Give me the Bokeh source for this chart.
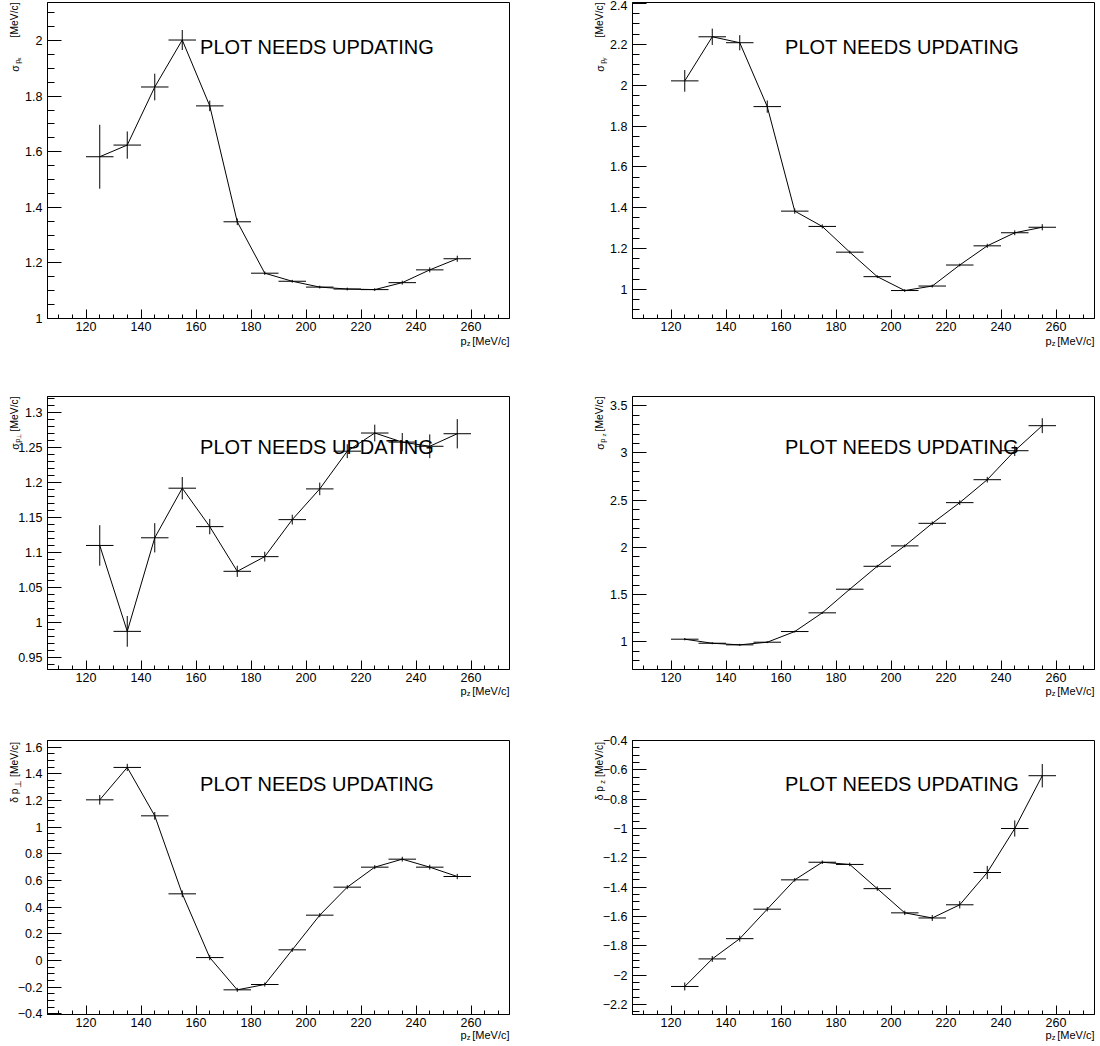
import numpy as np
from bokeh.plotting import figure
from bokeh.models import ColumnDataSource, Range1d, FixedTicker, CustomJSTickFormatter, Label
from bokeh.core.properties import value
from bokeh.layouts import column, row
from bokeh.embed import file_html
from bokeh.resources import INLINE

FONT = "Liberation Sans"

# ---------------- data ----------------
pz = [125, 135, 145, 155, 165, 175, 185, 195, 205, 215, 225, 235, 245, 255]
pz_half_bin = [5, 5, 5, 5, 5, 5, 5, 5, 5, 5, 5, 5, 5, 5]

sigma_px = [1.582, 1.624, 1.833, 2.002, 1.765, 1.348, 1.163, 1.134, 1.113, 1.106, 1.104, 1.129, 1.175, 1.215]
sigma_px_err = [0.115, 0.049, 0.048, 0.036, 0.019, 0.012, 0.006, 0.005, 0.005, 0.005, 0.005, 0.007, 0.009, 0.011]

sigma_py = [2.021, 2.237, 2.208, 1.895, 1.383, 1.308, 1.182, 1.062, 0.994, 1.016, 1.119, 1.213, 1.277, 1.304]
sigma_py_err = [0.053, 0.040, 0.037, 0.030, 0.013, 0.010, 0.007, 0.007, 0.007, 0.007, 0.007, 0.010, 0.012, 0.015]

sigma_pt = [1.110, 0.987, 1.121, 1.192, 1.137, 1.073, 1.094, 1.147, 1.191, 1.245, 1.271, 1.258, 1.252, 1.270]
sigma_pt_err = [0.029, 0.022, 0.021, 0.016, 0.011, 0.008, 0.007, 0.007, 0.009, 0.010, 0.012, 0.013, 0.017, 0.021]

sigma_pzz = [1.028, 0.985, 0.968, 0.996, 1.109, 1.307, 1.557, 1.800, 2.016, 2.255, 2.474, 2.717, 3.024, 3.289]
sigma_pzz_err = [0.012, 0.010, 0.010, 0.010, 0.010, 0.012, 0.012, 0.015, 0.015, 0.020, 0.025, 0.030, 0.056, 0.079]

delta_pt = [1.205, 1.448, 1.085, 0.500, 0.022, -0.220, -0.180, 0.080, 0.340, 0.550, 0.700, 0.760, 0.700, 0.630]
delta_pt_err = [0.036, 0.027, 0.029, 0.025, 0.020, 0.015, 0.015, 0.015, 0.015, 0.015, 0.015, 0.018, 0.018, 0.020]

delta_pz = [-2.077, -1.889, -1.751, -1.550, -1.350, -1.230, -1.245, -1.410, -1.575, -1.610, -1.520, -1.300, -1.000, -0.640]
delta_pz_err = [0.027, 0.020, 0.020, 0.015, 0.012, 0.012, 0.012, 0.015, 0.015, 0.020, 0.025, 0.045, 0.055, 0.080]

# ---------------- ticks ----------------
x_ticks = [120, 140, 160, 180, 200, 220, 240, 260]
x_tick_labels = ["120", "140", "160", "180", "200", "220", "240", "260"]

y1_ticks = [1.0, 1.2, 1.4, 1.6, 1.8, 2.0]
y1_tick_labels = ["1", "1.2", "1.4", "1.6", "1.8", "2"]
y2_ticks = [1.0, 1.2, 1.4, 1.6, 1.8, 2.0, 2.2, 2.4]
y2_tick_labels = ["1", "1.2", "1.4", "1.6", "1.8", "2", "2.2", "2.4"]
y3_ticks = [0.95, 1.0, 1.05, 1.1, 1.15, 1.2, 1.25, 1.3]
y3_tick_labels = ["0.95", "1", "1.05", "1.1", "1.15", "1.2", "1.25", "1.3"]
y4_ticks = [1.0, 1.5, 2.0, 2.5, 3.0, 3.5]
y4_tick_labels = ["1", "1.5", "2", "2.5", "3", "3.5"]
y5_ticks = [-0.4, -0.2, 0.0, 0.2, 0.4, 0.6, 0.8, 1.0, 1.2, 1.4, 1.6]
y5_tick_labels = ["\u22120.4", "\u22120.2", "0", "0.2", "0.4", "0.6", "0.8", "1", "1.2", "1.4", "1.6"]
y6_ticks = [-2.2, -2.0, -1.8, -1.6, -1.4, -1.2, -1.0, -0.8, -0.6, -0.4]
y6_tick_labels = ["\u22122.2", "\u22122", "\u22121.8", "\u22121.6", "\u22121.4", "\u22121.2", "\u22121", "\u22120.8", "\u22120.6", "\u22120.4"]

NOTE = "PLOT NEEDS UPDATING"

FMT_CODE = """
for (let i = 0; i < tvals.length; i++) {
  if (Math.abs(tvals[i] - tick) < 1e-9) { return tlabels[i]; }
}
return '';
"""

X_LO, X_HI = 106, 274


def minor_list(lo, hi, step):
    n0 = int(np.ceil(lo / step - 1e-9))
    n1 = int(np.floor(hi / step + 1e-9))
    return [round(k * step, 6) for k in range(n0, n1 + 1)]


def add_title(p, ax, ay, pieces, angle):
    # pieces: (text, font size, x offset px, y offset px)
    n = len(pieces)
    src = ColumnDataSource(dict(
        x=[ax] * n, y=[ay] * n,
        text=[pc[0] for pc in pieces], size=[pc[1] for pc in pieces],
        xo=[pc[2] for pc in pieces], yo=[pc[3] for pc in pieces]))
    p.text(x="x", y="y", text="text", source=src, text_font=value(FONT), text_font_size="size",
           x_offset="xo", y_offset="yo", angle=angle, text_align="right",
           text_baseline="alphabetic", text_color="black", level="overlay")


def make_panel(yv, ye, yr, yt, ytl, ystep, ylabel, w, h, bl, br, bt, bb, note_y, xt_off):
    p = figure(width=w, height=h, x_range=Range1d(X_LO, X_HI), y_range=Range1d(*yr),
               output_backend="svg", toolbar_location=None,
               min_border_left=bl, min_border_right=br, min_border_top=bt, min_border_bottom=bb)
    p.background_fill_color = "white"
    p.border_fill_color = "white"
    p.xgrid.visible = False
    p.ygrid.visible = False
    p.outline_line_color = "black"
    p.outline_line_width = 1
    p.outline_line_alpha = 1

    x = np.array(pz, dtype=float)
    y = np.array(yv, dtype=float)
    e = np.array(ye, dtype=float)
    hw = np.array(pz_half_bin, dtype=float)
    src = ColumnDataSource(dict(x=x, y=y, xl=x - hw, xr=x + hw, yl=y - e, yh=y + e))
    p.line("x", "y", source=src, line_color="black", line_width=1)
    p.segment("xl", "y", "xr", "y", source=src, line_color="black", line_width=1)
    p.segment("x", "yl", "x", "yh", source=src, line_color="black", line_width=1)

    frame_h = h - bt - bb

    xa = p.xaxis[0]
    xa.ticker = FixedTicker(ticks=x_ticks, minor_ticks=minor_list(X_LO, X_HI, 5))
    xa.formatter = CustomJSTickFormatter(args=dict(tvals=x_ticks, tlabels=x_tick_labels), code=FMT_CODE)
    xa.major_tick_in = 9
    xa.major_tick_out = 0
    xa.minor_tick_in = 4
    xa.minor_tick_out = 0
    xa.major_label_standoff = 3
    xa.major_label_text_font = FONT
    xa.major_label_text_font_size = "12.5px"
    xa.major_label_text_color = "black"
    xa.axis_line_color = "black"
    xa.major_tick_line_color = "black"
    xa.minor_tick_line_color = "black"

    ya = p.yaxis[0]
    ya.ticker = FixedTicker(ticks=yt, minor_ticks=minor_list(yr[0], yr[1], ystep))
    ya.formatter = CustomJSTickFormatter(args=dict(tvals=yt, tlabels=ytl), code=FMT_CODE)
    ya.major_tick_in = 14
    ya.major_tick_out = 0
    ya.minor_tick_in = 7
    ya.minor_tick_out = 0
    ya.major_label_standoff = 5
    ya.major_label_text_font = FONT
    ya.major_label_text_font_size = "12.5px"
    ya.major_label_text_color = "black"
    ya.axis_line_color = "black"
    ya.major_tick_line_color = "black"
    ya.minor_tick_line_color = "black"

    # x title  p_z [MeV/c], right-aligned at the frame's right end
    add_title(p, X_HI, yr[0], [("[MeV/c]", "11px", 0, xt_off),
                               ("z", "7.5px", -39, xt_off + 3),
                               ("p", "11px", -43, xt_off)], 0)
    # y title, rotated, its end at the frame's top
    add_title(p, X_LO, yr[1], ylabel, np.pi / 2)

    common = dict(x_units="screen", y_units="screen", text_font=FONT, text_color="black",
                  text_baseline="alphabetic")
    p.add_layout(Label(x=152.6, y=frame_h - note_y, text=NOTE, text_align="left",
                       text_font_size="20px", **common))
    return p


def ylab_sigma(sub, d0, d1, d2):
    return [("[MeV/c]", "10.3px", -33.5, 0), (sub, "6px", -28.5, d0), ("p", "7.5px", -30.5, d1),
            ("\u03c3", "10.3px", -32, d2)]


p1 = make_panel(sigma_px, sigma_px_err, (1.0, 2.137), y1_ticks, y1_tick_labels, 0.05,
                ylab_sigma("x", 55, 57, 63), 550, 349, 47, 41, 1, 31, 45, 22)
p2 = make_panel(sigma_py, sigma_py_err, (0.857, 2.405), y2_ticks, y2_tick_labels, 0.05,
                ylab_sigma("y", 55, 57, 63), 550, 349, 82, 6, 2, 31, 44, 22)
p3 = make_panel(sigma_pt, sigma_pt_err, (0.9324, 1.3233), y3_ticks, y3_tick_labels, 0.01,
                [("[MeV/c]", "10.3px", -33.5, 0), ("\u22a5", "6px", -28.5, 37), ("p", "7.5px", -30.5, 42),
                 ("\u03c3", "10.3px", -32, 47)], 550, 349, 47, 41, 47, 29, 50, 21)
p4 = make_panel(sigma_pzz, sigma_pzz_err, (0.707, 3.598), y4_ticks, y4_tick_labels, 0.1,
                ylab_sigma("z", 37, 42, 47), 550, 349, 82, 6, 47, 29, 50, 21)
p5 = make_panel(delta_pt, delta_pt_err, (-0.405, 1.65), y5_ticks, y5_tick_labels, 0.05,
                [("[MeV/c]", "10.3px", -33.5, 1.5), ("\u22a5", "9px", -30, 39.5),
                 ("\u03b4 p", "10.3px", -33.5, 48)], 550, 348, 47, 41, 42, 32, 43, 20)
p6 = make_panel(delta_pz, delta_pz_err, (-2.268, -0.4), y6_ticks, y6_tick_labels, 0.05,
                [("[MeV/c]", "10.3px", -33.5, 1.5), ("z", "7.5px", -30.5, 39.5),
                 ("\u03b4 p", "10.3px", -33.5, 45.5)], 550, 348, 82, 6, 42, 32, 43, 20)

layout = column(row(p1, p2), row(p3, p4), row(p5, p6))

with open("out.html", "w") as f:
    f.write(file_html(layout, INLINE))
